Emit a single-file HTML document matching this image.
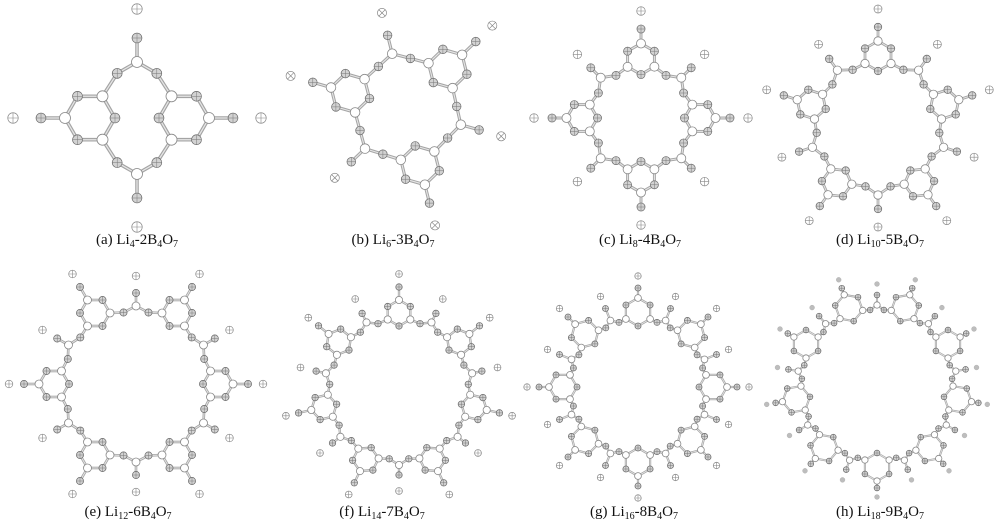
<!DOCTYPE html>
<html><head><meta charset="utf-8">
<style>
html,body{margin:0;padding:0;background:#fff;}
#wrap{position:relative;width:1000px;height:526px;overflow:hidden;background:#fff;}
svg{position:absolute;left:0;top:0;}
.cap{position:absolute;font-family:"Liberation Serif",serif;font-size:15px;color:#111;white-space:nowrap;transform:translateX(-50%);line-height:18px;}
.cap sub{font-size:10px;vertical-align:-3px;line-height:0;}
</style></head><body>
<div id="wrap">
<svg id="s" width="1000" height="526" viewBox="0 0 1000 526"></svg>
<div class="cap" style="left:137px;top:231px">(a) Li<sub>4</sub>-2B<sub>4</sub>O<sub>7</sub></div>
<div class="cap" style="left:393px;top:231px">(b) Li<sub>6</sub>-3B<sub>4</sub>O<sub>7</sub></div>
<div class="cap" style="left:640px;top:231px">(c) Li<sub>8</sub>-4B<sub>4</sub>O<sub>7</sub></div>
<div class="cap" style="left:880px;top:231px">(d) Li<sub>10</sub>-5B<sub>4</sub>O<sub>7</sub></div>
<div class="cap" style="left:128px;top:503px">(e) Li<sub>12</sub>-6B<sub>4</sub>O<sub>7</sub></div>
<div class="cap" style="left:382px;top:503px">(f) Li<sub>14</sub>-7B<sub>4</sub>O<sub>7</sub></div>
<div class="cap" style="left:634px;top:503px">(g) Li<sub>16</sub>-8B<sub>4</sub>O<sub>7</sub></div>
<div class="cap" style="left:880px;top:503px">(h) Li<sub>18</sub>-9B<sub>4</sub>O<sub>7</sub></div>
</div>
<script>
var P=[
[137,118,2,180,25,47,56,1.15,96,80,124,109,5.5,'p'],
[406,109,3,196,20,58,57,1.0,97,76,120,99,4.8,'x'],
[641,118,4,270,15.5,59,57,0.93,89,71,107,90,4.5,'p'],
[878,126,5,270,15,70,69,0.95,99,83,117,101,4.2,'p'],
[136,384,6,180,15,82,78,0.96,112,91,127,108,4,'p'],
[399,390,7,270,13,77,75,0.96,103,85,116,101,3.6,'p'],
[638,387,8,270,14,75,72,0.96,99,85,111,98,3.4,'p'],
[877,385,9,290,14,82,80,0.97,103,90,112,101,3.2,'d']
];
var bonds='',atoms='';
function f(v){return v.toFixed(1);}
function bond(a,b,w){bonds+='<line x1="'+f(a[0])+'" y1="'+f(a[1])+'" x2="'+f(b[0])+'" y2="'+f(b[1])+'" stroke="#a4a4a4" stroke-width="'+w+'"/><line x1="'+f(a[0])+'" y1="'+f(a[1])+'" x2="'+f(b[0])+'" y2="'+f(b[1])+'" stroke="#e6e6e6" stroke-width="'+(w*0.35)+'"/>';}
function B(p,r){atoms+='<circle cx="'+f(p[0])+'" cy="'+f(p[1])+'" r="'+r+'" fill="#fff" stroke="#888" stroke-width="0.8"/>';}
function O(p,r){atoms+='<circle cx="'+f(p[0])+'" cy="'+f(p[1])+'" r="'+r+'" fill="#d2d2d2" stroke="#6a6a6a" stroke-width="0.7"/>'+
'<path d="M'+f(p[0]-r)+' '+f(p[1])+'H'+f(p[0]+r)+'M'+f(p[0])+' '+f(p[1]-r)+'V'+f(p[1]+r)+'" stroke="#777" stroke-width="0.5"/>';}
function L(p,r,t){
 if(t=='d'){atoms+='<circle cx="'+f(p[0])+'" cy="'+f(p[1])+'" r="'+(r*0.8)+'" fill="#bdbdbd" stroke="#aaa" stroke-width="0.4"/>';return;}
 atoms+='<circle cx="'+f(p[0])+'" cy="'+f(p[1])+'" r="'+r+'" fill="#fff" stroke="#888" stroke-width="0.7"/>';
 var d=r*(t=='x'?0.7:1);
 if(t=='x')atoms+='<path d="M'+f(p[0]-d)+' '+f(p[1]-d)+'L'+f(p[0]+d)+' '+f(p[1]+d)+'M'+f(p[0]-d)+' '+f(p[1]+d)+'L'+f(p[0]+d)+' '+f(p[1]-d)+'" stroke="#777" stroke-width="0.6"/>';
 else atoms+='<path d="M'+f(p[0]-d)+' '+f(p[1])+'H'+f(p[0]+d)+'M'+f(p[0])+' '+f(p[1]-d)+'V'+f(p[1]+d)+'" stroke="#888" stroke-width="0.6"/>';
}
function pol(cx,cy,r,a){a=a*Math.PI/180;return [cx+r*Math.cos(a),cy+r*Math.sin(a)];}
P.forEach(function(q){
 var cx=q[0],cy=q[1],n=q[2],t0=q[3],h=q[4],Rr=q[5],Rb=q[6],ob=q[7],tOh=q[8],tOb=q[9],Lh=q[10],Lb=q[11],ar=q[12],lt=q[13];
 var step=360/n,bw=Math.max(1.8,ar*0.65);
 var Bl=[],Ol=[];
 for(var k=0;k<n;k++){
  var th=t0+k*step;
  var c=pol(cx,cy,Rr,th);
  var v=[];
  for(var j=0;j<6;j++)v.push(pol(c[0],c[1],h,th+j*60));
  for(var j=0;j<6;j++)bond(v[j],v[(j+1)%6],bw);
  var to=pol(c[0],c[1],tOh-Rr,th);
  bond(v[0],to,bw);
  var lh=pol(c[0],c[1],Lh-Rr,th);
  L(lh,ar*0.95,lt);
  var tb=th+step/2;
  var bb=pol(cx,cy,Rb,tb);
  var ra=v[2];
  var th2=th+step, c2=pol(cx,cy,Rr,th2), rb=pol(c2[0],c2[1],h,th2-120);
  function mid(a,b){var m=[(a[0]+b[0])/2-cx,(a[1]+b[1])/2-cy];return [cx+m[0]*ob,cy+m[1]*ob];}
  var o1=mid(ra,bb),o2=mid(rb,bb);
  bond(ra,o1,bw);bond(o1,bb,bw);bond(rb,o2,bw);bond(o2,bb,bw);
  var bt=pol(cx,cy,tOb,tb);bond(bb,bt,bw);
  var lb=pol(cx,cy,Lb,tb);L(lb,ar*0.95,lt);
  for(var j=0;j<6;j++){ if(j%2==0)Bl.push([v[j],ar]); else Ol.push([v[j],ar*0.9]); }
  Ol.push([to,ar*0.9]);Ol.push([o1,ar*0.9]);Ol.push([o2,ar*0.9]);Ol.push([bt,ar*0.9]);
  Bl.push([bb,ar]);
 }
 Ol.forEach(function(a){O(a[0],a[1]);});
 Bl.forEach(function(a){B(a[0],a[1]);});
});
document.getElementById('s').innerHTML=bonds+atoms;
</script>
</body></html>
